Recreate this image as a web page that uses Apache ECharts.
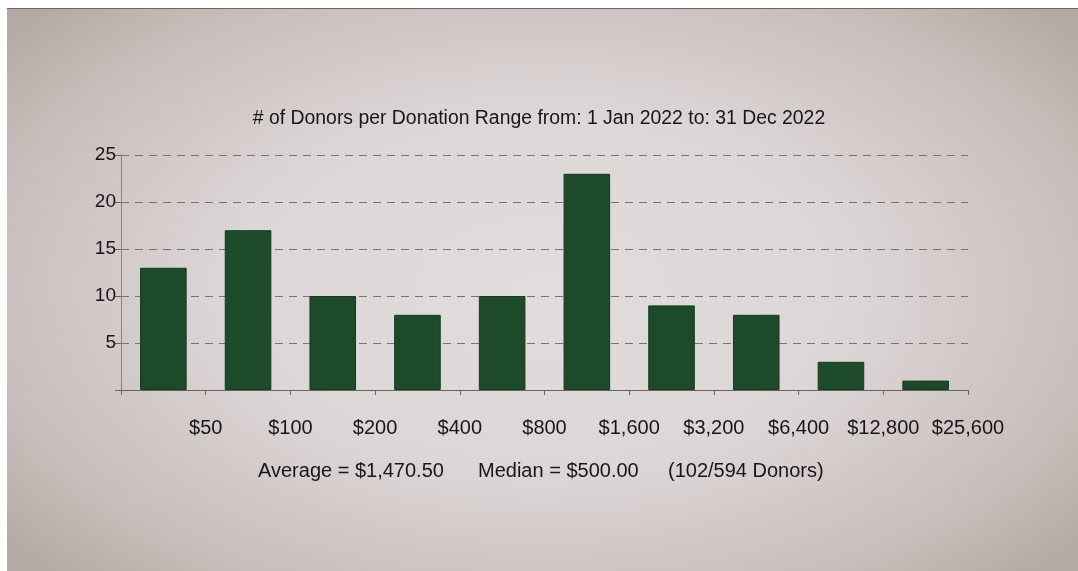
<!DOCTYPE html>
<html>
<head>
<meta charset="utf-8">
<script src="https://cdn.jsdelivr.net/npm/echarts@6/dist/echarts.min.js"></script>
<style>
html,body{margin:0;padding:0;background:#ffffff;width:1078px;height:571px;overflow:hidden;}
#bg{position:absolute;left:7px;top:8px;right:0;bottom:0;border-top:1px solid #6f6664;
background:radial-gradient(ellipse 65% 72% at 50% 50%, #e2dddd 0%, #dcd6d6 45%, #c8bfbc 80%, #b4a9a4 100%);}
#chart{position:absolute;left:0;top:0;width:1078px;height:571px;}
</style>
</head>
<body>
<div id="bg"></div>
<div id="chart"></div>
<script>
var categories = ['$50','$100','$200','$400','$800','$1,600','$3,200','$6,400','$12,800','$25,600'];
var donors = [13, 17, 10, 8, 10, 23, 9, 8, 3, 1];
var yTicks = [0, 5, 10, 15, 20, 25];
var titleText = '# of Donors per Donation Range from: 1 Jan 2022 to: 31 Dec 2022';
var footerTexts = ['Average = $1,470.50', 'Median = $500.00', '(102/594 Donors)'];

var chart = echarts.init(document.getElementById('chart'), null, {renderer:'canvas'});
var font = 'Liberation Sans, Arial, sans-serif';
var txtColor = '#1a1616';
var footerX = [258, 478, 668];
chart.setOption({
  backgroundColor: 'transparent',
  animation: false,
  title: {text: titleText, left: 'center', top: 104, textStyle:{fontFamily:font, fontSize:19.4, fontWeight:'normal', color:txtColor}},
  graphic: footerTexts.map(function(t, i){
    return {type:'text', left: footerX[i], top: 461,
      style:{text: t, fontFamily: font, fontSize: 20, fill: txtColor}};
  }),
  grid: {left: 121, right: 110, top: 155, bottom: 181},
  xAxis: [
    {type:'category', data: categories, boundaryGap:true,
     axisLine:{show:true, lineStyle:{color:'#6a6262', width:1}},
     axisTick:{show:true, length:5, lineStyle:{color:'#6a6262'}},
     axisLabel:{show:false}},
    {type:'value', min:0, max:categories.length, interval:1, position:'bottom',
     axisLine:{show:false}, axisTick:{show:false}, splitLine:{show:false},
     axisLabel:{show:true, margin:28, fontFamily:font, fontSize:20, color:txtColor,
       formatter:function(v){ return v>=1 ? categories[Math.round(v)-1] : ''; }}}
  ],
  yAxis: {type:'value', min: yTicks[0], max: yTicks[yTicks.length-1], interval:5,
    axisLine:{show:true, lineStyle:{color:'#8a8282', width:1}},
    axisTick:{show:true, length:6, lineStyle:{color:'#6a6262'}},
    axisLabel:{fontFamily:font, fontSize:19, color:txtColor, margin:5,
      formatter:function(v){ return v===0 ? '' : String(v); }},
    splitLine:{show:true, lineStyle:{color:'#7a7272', type:[8,6], width:1}}
  },
  series: [{
    type:'bar', xAxisIndex:0, data: donors, barWidth:'55%',
    itemStyle:{color:'#1d4a29', borderColor:'#163a20', borderWidth:1}
  }]
});
</script>
</body>
</html>
